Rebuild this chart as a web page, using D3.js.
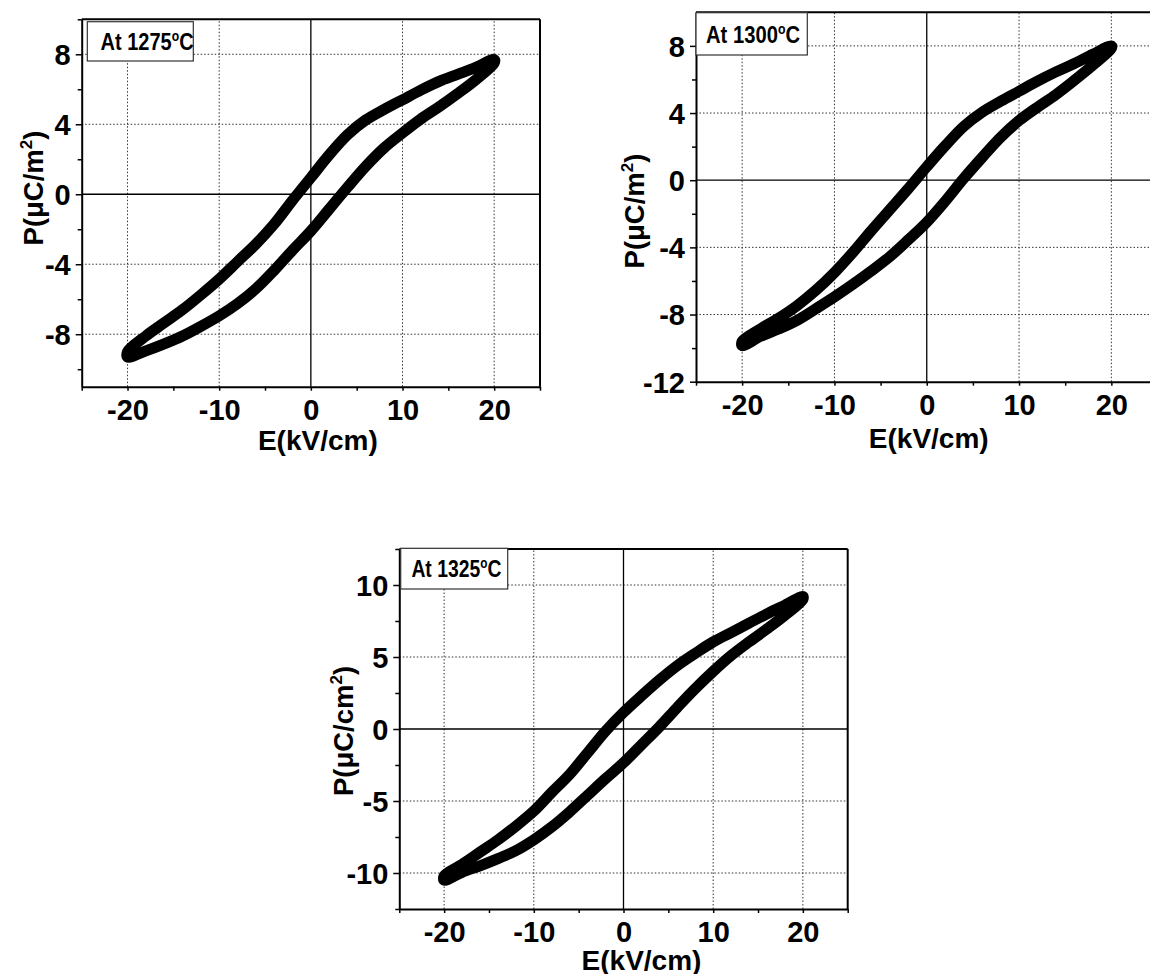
<!DOCTYPE html>
<html><head><meta charset="utf-8">
<script src="https://cdn.jsdelivr.net/npm/d3@7"></script>
<style>
body{margin:0;background:#fff}
svg{display:block}
text{font-family:"Liberation Sans",Arial,Helvetica,sans-serif;font-weight:bold;fill:#000}
</style>
</head><body>
<svg id="c" width="1150" height="974"></svg>
<script>
// ---- data ----
const E_UP = [20,18,16,14,12,10,8,6,4,2,0,-2,-4,-6,-8,-10,-12,-14,-16,-18,-20];
const E_DN = [-20,-18,-16,-14,-12,-10,-8,-6,-4,-2,0,2,4,6,8,10,12,14,16,18,20];

const P1275_UP = [7.7,7.25,6.85,6.45,5.95,5.4,4.85,4.25,3.4,2.25,0.95,-0.35,-1.7,-2.85,-3.85,-4.85,-5.75,-6.6,-7.35,-8.1,-9.0];
const P1275_DN = [-9.3,-8.95,-8.55,-8.1,-7.55,-6.95,-6.25,-5.4,-4.35,-3.2,-2.1,-0.85,0.4,1.6,2.65,3.5,4.3,5.0,5.75,6.55,7.5];

const P1300_UP = [8.0,7.5,6.95,6.45,5.9,5.3,4.7,4.05,3.2,2.05,0.8,-0.5,-1.75,-3.0,-4.3,-5.5,-6.55,-7.45,-8.2,-8.85,-9.6];
const P1300_DN = [-9.85,-9.3,-8.85,-8.33,-7.65,-6.95,-6.2,-5.4,-4.55,-3.55,-2.5,-1.25,0.1,1.35,2.55,3.55,4.35,5.1,5.95,6.85,7.85];

const P1325_UP = [9.2,8.6,8.0,7.35,6.7,6.05,5.25,4.4,3.4,2.3,1.15,-0.15,-1.65,-3.15,-4.4,-5.7,-6.75,-7.7,-8.55,-9.4,-10.2];
const P1325_DN = [-10.5,-9.95,-9.5,-9.0,-8.45,-7.7,-6.8,-5.75,-4.6,-3.45,-2.35,-1.1,0.15,1.5,2.8,4.0,5.1,6.05,6.95,7.9,9.0];

const X_TICKS = [-20,-10,0,10,20];
const X_MINOR = [-25,-15,-5,5,15,25];
const Y1_TICKS = [-8,-4,0,4,8];
const Y1_MINOR = [-10,-6,-2,2,6,10];
const Y2_TICKS = [-12,-8,-4,0,4,8];
const Y2_MINOR = [-10,-6,-2,2,6];
const Y3_TICKS = [-10,-5,0,5,10];
const Y3_MINOR = [-12.5,-7.5,-2.5,2.5,7.5,12.5];

const TITLES = ["At 1275", "At 1300", "At 1325"];
const Y_TITLES = ["P(\u03bcC/m", "P(\u03bcC/m", "P(\u03bcC/cm"];
const X_TITLE = "E(kV/cm)";

// ---- layout ----
const svg = d3.select("#c");
const panels = [
  {up:P1275_UP, dn:P1275_DN, yd:[-11,10], xr:[81.7,540], yr:[386.7,19.3], yt:Y1_TICKS, ym:Y1_MINOR,
   title:TITLES[0], box:[5.6,2.4,106,39.3], tx:13.3, tb:30.7, tw:93, ytitle:Y_TITLES[0], ytx:42.7, yty:188, xtOff:7, xtb:450},
  {up:P1300_UP, dn:P1300_DN, yd:[-12,10], xr:[696,1157.5], yr:[381.7,12.3], yt:Y2_TICKS, ym:Y2_MINOR,
   title:TITLES[1], box:[0,0.4,111.3,42.3], tx:10, tb:31, tw:94, ytitle:Y_TITLES[1], ytx:643.5, yty:211, xtOff:2, xtb:448},
  {up:P1325_UP, dn:P1325_DN, yd:[-12.5,12.5], xr:[399.3,847.7], yr:[909,549], yt:Y3_TICKS, ym:Y3_MINOR,
   title:TITLES[2], box:[1.4,-0.7,107,40.7], tx:10.7, tb:27.7, tw:90, ytitle:Y_TITLES[2], ytx:353, yty:731, xtOff:18, xtb:970}
];

const fmt = d => d < 0 ? "-" + Math.abs(d) : String(d);

function drawPanel(p){
  const x = d3.scaleLinear().domain([-25,25]).range(p.xr);
  const y = d3.scaleLinear().domain(p.yd).range(p.yr);
  const g = svg.append("g");
  const [x0,x1] = p.xr, [yb,yt] = p.yr;

  // dotted grid
  g.selectAll(".gx").data(X_TICKS.filter(d=>d!==0)).join("line")
    .attr("x1",d=>x(d)).attr("x2",d=>x(d)).attr("y1",yb).attr("y2",yt)
    .attr("stroke","#333").attr("stroke-width",1).attr("stroke-dasharray","1.5,2");
  g.selectAll(".gy").data(p.yt.filter(d=>d!==0 && d!==p.yd[0])).join("line")
    .attr("x1",x0).attr("x2",x1).attr("y1",d=>y(d)).attr("y2",d=>y(d))
    .attr("stroke","#333").attr("stroke-width",1).attr("stroke-dasharray","1.5,2");
  // zero lines
  g.append("line").attr("x1",x(0)).attr("x2",x(0)).attr("y1",yb).attr("y2",yt).attr("stroke","#000").attr("stroke-width",1.3);
  g.append("line").attr("x1",x0).attr("x2",x1).attr("y1",y(0)).attr("y2",y(0)).attr("stroke","#000").attr("stroke-width",1.3);

  // loop
  const pts = E_UP.map((e,i)=>[e,p.up[i]]).concat(E_DN.map((e,i)=>[e,p.dn[i]]));
  const line = d3.line().x(d=>x(d[0])).y(d=>y(d[1])).curve(d3.curveCatmullRomClosed.alpha(0.5));
  g.append("path").attr("d",line(pts)).attr("fill","none").attr("stroke","#000")
    .attr("stroke-width",11).attr("stroke-linejoin","round");

  // frame top/right
  g.append("line").attr("x1",x0).attr("x2",x1).attr("y1",yt).attr("y2",yt).attr("stroke","#000").attr("stroke-width",2);
  g.append("line").attr("x1",x1).attr("x2",x1).attr("y1",yt).attr("y2",yb).attr("stroke","#000").attr("stroke-width",2);

  // bottom axis
  const ax = g.append("g").attr("transform",`translate(0,${yb})`);
  ax.call(d3.axisBottom(x).tickValues(X_TICKS).tickSize(4).tickSizeOuter(0).tickFormat(fmt));
  ax.selectAll("text").attr("y",33).attr("dy",0).attr("fill","#000")
    .style("font-size","29px").style("font-family","'Liberation Sans',Arial,sans-serif").style("font-weight","bold");
  ax.select(".domain").attr("stroke-width",2);
  const axm = ax.append("g").call(d3.axisBottom(x).tickValues(X_MINOR).tickSize(4).tickSizeOuter(0).tickFormat(""));
  axm.select(".domain").remove(); axm.selectAll("text").remove();
  ax.selectAll("line").attr("stroke-width",1.5);

  // left axis
  const ay = g.append("g").attr("transform",`translate(${x0},0)`);
  ay.call(d3.axisLeft(y).tickValues(p.yt).tickSize(6).tickPadding(5).tickSizeOuter(0).tickFormat(fmt));
  ay.selectAll("text").attr("dy","0.36em").attr("fill","#000")
    .style("font-size","29px").style("font-family","'Liberation Sans',Arial,sans-serif").style("font-weight","bold");
  ay.select(".domain").attr("stroke-width",2);
  const aym = ay.append("g").call(d3.axisLeft(y).tickValues(p.ym).tickSize(4).tickSizeOuter(0).tickFormat(""));
  aym.select(".domain").remove(); aym.selectAll("text").remove();
  ay.selectAll("line").attr("stroke-width",1.5);

  // title box
  const bx = x0 + p.box[0], by = yt + p.box[1];
  g.append("rect").attr("x",bx).attr("y",by).attr("width",p.box[2]).attr("height",p.box[3])
    .attr("fill","#fff").attr("stroke","#333").attr("stroke-width",1.2);
  const t = g.append("text").attr("x",bx+p.tx).attr("y",yt+p.tb).style("font-size","23px")
    .attr("textLength",p.tw).attr("lengthAdjust","spacingAndGlyphs");
  t.append("tspan").text(p.title);
  t.append("tspan").attr("dy",-9).style("font-size","14px").text("o");
  t.append("tspan").attr("dy",9).text("C");

  // axis titles
  g.append("text").attr("x",x(0)+p.xtOff).attr("y",p.xtb).attr("text-anchor","middle")
    .style("font-size","28px").text(X_TITLE);
  const yt2 = g.append("text").attr("transform",`translate(${p.ytx},${p.yty}) rotate(-90)`)
    .attr("text-anchor","middle").style("font-size","27.5px");
  yt2.append("tspan").text(p.ytitle);
  yt2.append("tspan").attr("dy",-11).style("font-size","17px").text("2");
  yt2.append("tspan").attr("dy",11).text(")");
}
panels.forEach(drawPanel);
</script>
</body></html>
